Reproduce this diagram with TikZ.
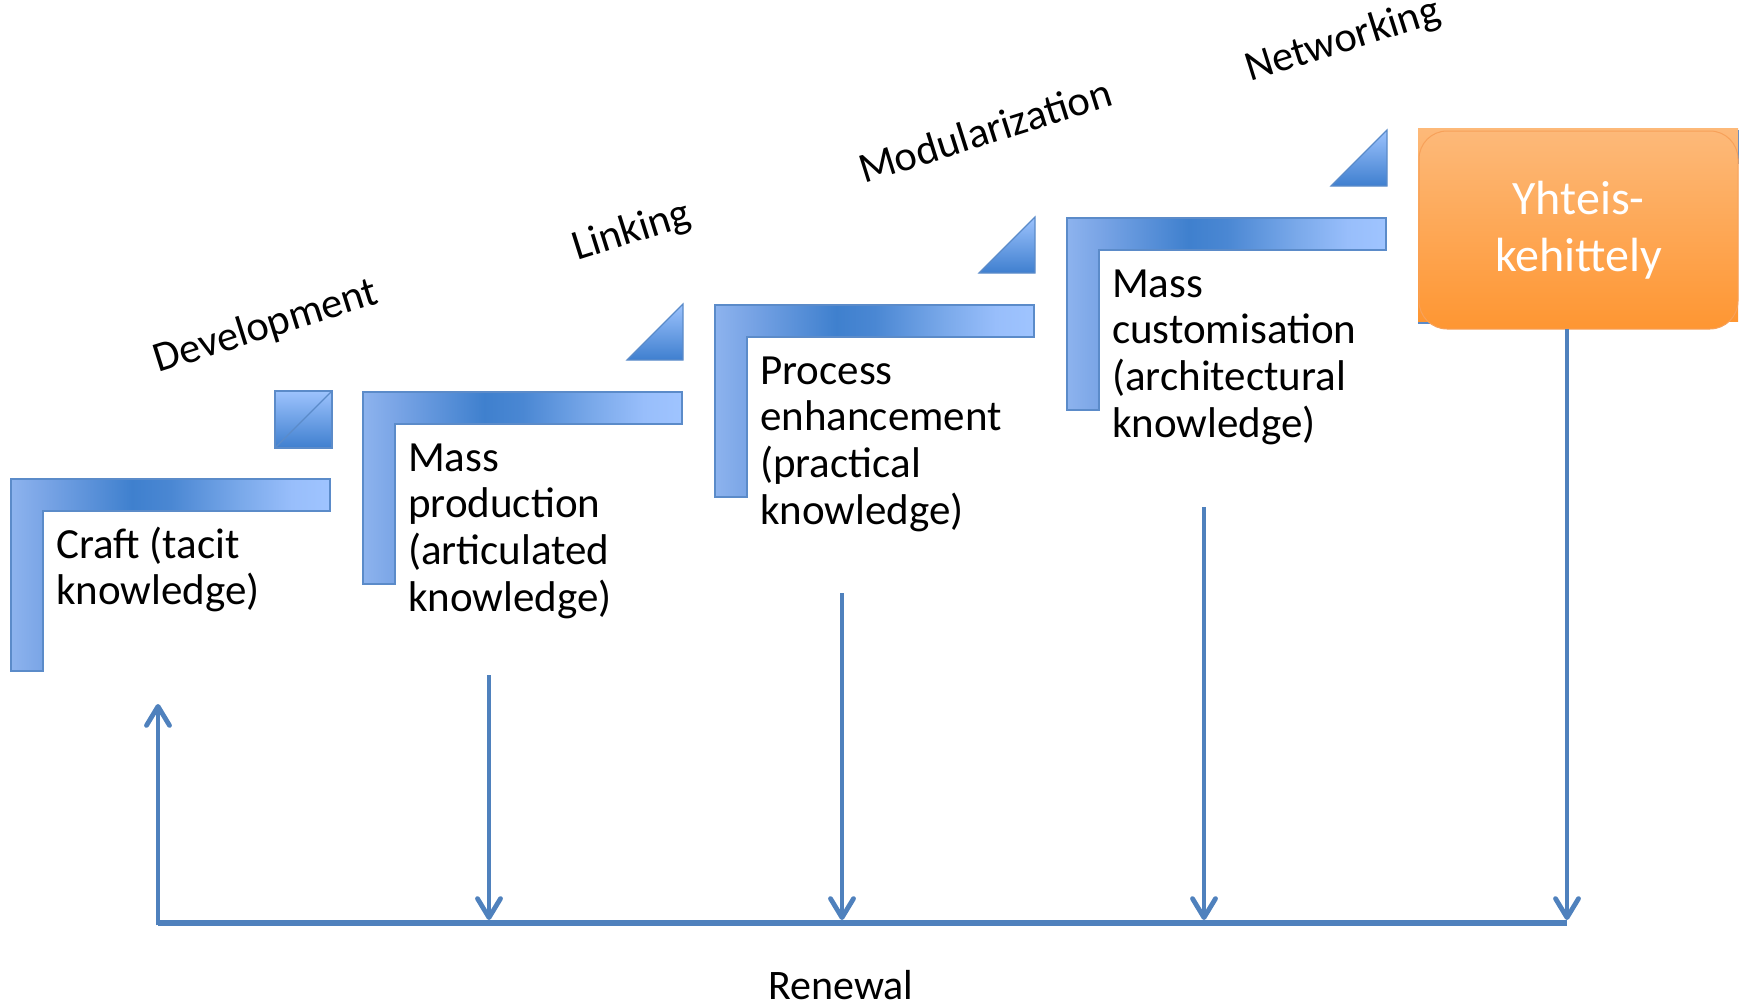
\documentclass[tikz,border=0pt]{standalone}
\usepackage{fontspec}
\setmainfont{Carlito}
\usetikzlibrary{arrows.meta}
\definecolor{lineblue}{HTML}{4F81BD}
\definecolor{edgeblue}{HTML}{5B8BC9}
\definecolor{cA}{HTML}{8DB3EE}
\definecolor{cB}{HTML}{7AA5E6}
\definecolor{cC}{HTML}{3F80CE}
\definecolor{cD}{HTML}{4A87D3}
\definecolor{cE}{HTML}{7AA9EA}
\definecolor{cF}{HTML}{98BEFB}
\definecolor{cG}{HTML}{9FC4FF}
\definecolor{triTop}{HTML}{9DC3FD}
\definecolor{triBot}{HTML}{3F7FCF}
\definecolor{orTop}{HTML}{FDB979}
\definecolor{orBot}{HTML}{FE9632}
\definecolor{orEdge}{HTML}{F7A15A}
\pgfdeclarehorizontalshading{barshade}{100bp}{color(0bp)=(cA); color(25bp)=(cA); color(30bp)=(cB); color(44bp)=(cC); color(50bp)=(cD); color(61bp)=(cE); color(69bp)=(cF); color(75bp)=(cG); color(100bp)=(cG)}
\tikzset{
  lshape/.style={shading=barshade, draw=edgeblue, line width=1.4pt},
  tri/.style={top color=triTop, bottom color=triBot, draw=edgeblue, line width=1.2pt},
  body/.style={font=\fontsize{43}{46.7}\selectfont, align=left, inner sep=0pt, anchor=base west, text=black},
  stagelabel/.style={font=\fontsize{42.5}{46}\selectfont, inner sep=0pt, anchor=base west, rotate=17.5},
  conn/.style={draw=lineblue, line width=4.8pt},
  tip/.style={-{Straight Barb[length=19pt,width=23pt,round]}},
}
\begin{document}
\begin{tikzpicture}[x=1pt,y=-1pt]
\useasboundingbox (0,0) rectangle (1743,1007);
% L shapes
\foreach \i in {0,...,4}{
  \pgfmathsetmacro\xo{11+352*\i}
  \pgfmathsetmacro\yo{479-87*\i}
  \path[lshape] (\xo,\yo) -- ++(319,0) -- ++(0,32) -- ++(-287,0) -- ++(0,160) -- ++(-32,0) -- cycle;
}
% square for stage 1
\path[tri] (275,391) rectangle (332,448);
\draw[edgeblue, line width=1.2pt] (275,448) -- (332,391);
% triangles
\foreach \i in {1,2,3}{
  \pgfmathsetmacro\xo{11+352*\i}
  \pgfmathsetmacro\yo{479-87*\i}
  \path[tri] (\xo+264,\yo-32) -- (\xo+320,\yo-88) -- (\xo+320,\yo-32) -- cycle;
}
% texts (anchor = baseline of the last line)
\node[body] (t1) at (56,604.7) {Craft (tacit\\knowledge)};
\node[body] (t2) at (408,611.1) {Mass\\production\\(articulated\\knowledge)};
\node[body] (t3) at (760,524.1) {Process\\enhancement\\(practical\\knowledge)};
\node[body] (t4) at (1112,437.1) {Mass\\customisation\\(architectural\\knowledge)};
% labels
\node[stagelabel] (l1) at (158,373) {Development};
\node[stagelabel] (l2) at (577,261) {Linking};
\node[stagelabel] (l3) at (864,184) {Modularization};
\node[stagelabel] (l4) at (1250,82) {Networking};
% orange box
\shade[top color=orTop, bottom color=orBot] (1418,128) rectangle (1738,321);
\node[draw=orEdge, line width=1pt, rounded corners=28pt, top color=orTop, bottom color=orBot,
      minimum width=319pt, minimum height=198pt, inner sep=0pt, outer sep=0pt,
      text=white, align=center, font=\fontsize{48}{57}\selectfont] (yk) at (1578.5,230) {Yhteis-\\kehittely};
% renewal connectors
\coordinate (h1) at (158,925.4);
\coordinate (h5) at (1567,923);
\coordinate (a1) at (158,704);
\coordinate (s2) at (489,675);
\coordinate (s3) at (842,593);
\coordinate (s4) at (1204,507);
\coordinate (e2) at (489,920);
\coordinate (e3) at (842,920);
\coordinate (e4) at (1204,920);
\coordinate (e5) at (1567,920);
\draw[conn, line width=6pt] (158,923) -- (h5);
\draw[conn, tip] (h1) -- (a1);
\draw[conn, tip] (s2) -- (e2);
\draw[conn, tip] (s3) -- (e3);
\draw[conn, tip] (s4) -- (e4);
\draw[conn, tip] (yk.south -| e5) -- (e5);
\node[font=\fontsize{42}{46}\selectfont, anchor=base, inner sep=0pt] (rn) at (841,999) {Renewal};
\end{tikzpicture}
\end{document}
